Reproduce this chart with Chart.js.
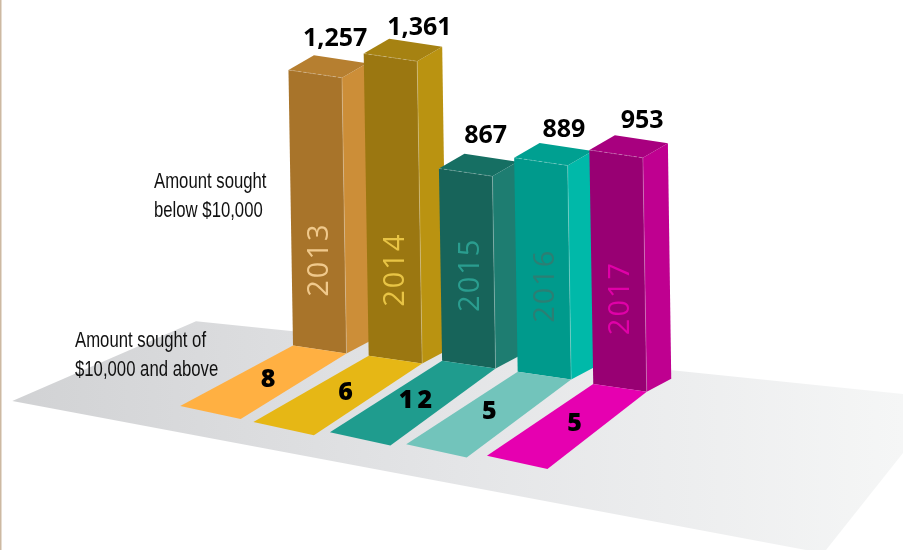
<!DOCTYPE html>
<html>
<head>
<meta charset="utf-8">
<title>Amount sought by year</title>
<script src="https://cdn.jsdelivr.net/npm/chart.js@4"></script>
<style>
    html, body { margin: 0; padding: 0; background: #ffffff; overflow: hidden; }
    #wrap { position: relative; width: 903px; height: 550px; }
</style>
</head>
<body>
<div id="wrap"><canvas id="chart" width="903" height="550"></canvas></div>
<script>
const years = ["2013", "2014", "2015", "2016", "2017"];
const belowTenThousand = [1257, 1361, 867, 889, 953];
const tenThousandAndAbove = [8, 6, 12, 5, 5];
// where each column stands on the tilted floor, in value units
const columnLift = [932, 886, 863, 813, 757];
// the artwork runs the columns a little past their value, this is the extra length
const columnFooting = [0, 17, 10, 87, 114];

const frontColors = ["#a8742a", "#9b7711", "#17645a", "#009a8c", "#980073"];
const sideColors = ["#cc8e38", "#ba9311", "#1e7d71", "#00b9a9", "#bf0090"];
const roofColors = ["#b67f30", "#a68212", "#166f63", "#00a091", "#a8007f"];
const stripColors = ["#ffb042", "#e6b715", "#1f9c8e", "#72c4bb", "#e600b0"];
const yearColors = ["#f0c98c", "#e8c445", "#2a9d8f", "#2b7f74", "#e000a8"];

// layout of the fake 3D, px
const COL_W = 53.5;
const SHEAR = 0.0165;
const FRONT_DROP = 7.8;
const stripDrop = [63, 69, 74.3, 75.2, 74.5];
const stripSlope = [1.735, 1.62, 1.463, 1.436, 1.38];
const labelShift = [[20, -24], [29, -18.5], [20, -25], [23, -21], [26, -22.5]];
const stripLabelShift = [3, 6, 3, -1, 6];

function poly(ctx, pts, fill) {
    ctx.beginPath();
    pts.forEach((p, i) => i ? ctx.lineTo(p[0], p[1]) : ctx.moveTo(p[0], p[1]));
    ctx.closePath();
    ctx.fillStyle = fill;
    ctx.fill();
}

function edge(ctx, a, b, dash) {
    ctx.save();
    ctx.strokeStyle = "rgba(255, 255, 255, 0.3)";
    ctx.lineWidth = 0.8;
    ctx.setLineDash(dash);
    ctx.beginPath();
    ctx.moveTo(a[0], a[1]);
    ctx.lineTo(b[0], b[1]);
    ctx.stroke();
    ctx.restore();
}

function drawFloor(ctx) {
    const grad = ctx.createLinearGradient(12, 0, 903, 0);
    grad.addColorStop(0, "#d1d2d4");
    grad.addColorStop(0.5, "#e4e5e7");
    grad.addColorStop(1, "#f5f6f6");
    poly(ctx, [[196, 321.3], [903, 394], [903, 453], [826, 550], [806, 550], [12.3, 401]], grad);
    ctx.fillStyle = "#cdb9a2";
    ctx.fillRect(0, 0, 1.5, 550);
}

// the reference uses a condensed face, none is installed so squeeze Liberation Sans
function drawNote(ctx, text, x, y) {
    ctx.save();
    ctx.translate(x, y);
    ctx.scale(0.76, 1);
    ctx.fillText(text, 0, 0);
    ctx.restore();
}

const pseudo3d = {
    id: "pseudo3d",
    beforeDatasetsDraw(chart) {
        drawFloor(chart.ctx);
    },
    // the plain rectangles are replaced by the faces below
    beforeDatasetDraw() {
        return false;
    },
    afterDatasetsDraw(chart) {
        const ctx = chart.ctx;
        const footing = chart.getDatasetMeta(1).data;
        const column = chart.getDatasetMeta(2).data;
        const feet = [];

        column.forEach((bar, i) => {
            const top = bar.y;
            const bottom = footing[i].base;
            const x0 = bar.x - COL_W / 2;
            const sh = SHEAR * (bottom - top);
            const ftl = [x0, top];
            const ftr = [x0 + COL_W, top + FRONT_DROP];
            const fbr = [x0 + COL_W + sh, bottom + FRONT_DROP];
            const fbl = [x0 + sh, bottom];
            const btr = [ftr[0] + 25, ftr[1] - 14.5];
            const btl = [ftl[0] + 25.5, ftl[1] - 14.7];
            const bbr = [fbr[0] + 24.5, fbr[1] - 13];

            poly(ctx, [ftr, btr, bbr, fbr], sideColors[i]);
            poly(ctx, [ftl, btl, btr, ftr], roofColors[i]);
            poly(ctx, [ftl, ftr, fbr, fbl], frontColors[i]);
            edge(ctx, ftl, ftr, [3, 2]);
            edge(ctx, ftr, fbr, []);
            feet.push({ fbl, fbr });

            ctx.save();
            ctx.translate(bar.x + 5, bottom - 86);
            ctx.rotate(-Math.PI / 2);
            ctx.font = "400 29px 'Open Sans'";
            ctx.letterSpacing = "2px";
            ctx.textAlign = "center";
            ctx.textBaseline = "middle";
            ctx.fillStyle = yearColors[i];
            ctx.fillText(years[i], 0, 0);
            ctx.restore();

            ctx.font = "700 25px 'Open Sans'";
            ctx.textAlign = "center";
            ctx.textBaseline = "alphabetic";
            ctx.fillStyle = "#000000";
            ctx.fillText(belowTenThousand[i].toLocaleString("en-US"), bar.x + labelShift[i][0], top + labelShift[i][1]);
        });

        feet.forEach((f, i) => {
            const reach = stripSlope[i] * stripDrop[i];
            const bl = [f.fbl[0] - reach - 3.5, f.fbl[1] + stripDrop[i] - 2.7];
            const br = [f.fbr[0] - reach + 3.5, f.fbr[1] + stripDrop[i] + 2.7];
            poly(ctx, [f.fbl, f.fbr, br, bl], stripColors[i]);

            const cx = (f.fbl[0] + f.fbr[0] + bl[0] + br[0]) / 4;
            const cy = (f.fbl[1] + f.fbr[1] + bl[1] + br[1]) / 4;
            const v = tenThousandAndAbove[i];
            ctx.save();
            ctx.font = "800 25px 'Open Sans'";
            ctx.letterSpacing = v >= 10 ? "4px" : "0px";
            ctx.textAlign = "center";
            ctx.textBaseline = "middle";
            ctx.fillStyle = "#000000";
            ctx.fillText(String(v), cx + stripLabelShift[i], cy - 1);
            ctx.restore();
        });

        ctx.font = "22px 'Liberation Sans'";
        ctx.textAlign = "left";
        ctx.textBaseline = "alphabetic";
        ctx.fillStyle = "#111111";
        drawNote(ctx, "Amount sought", 154, 188);
        drawNote(ctx, "below $10,000", 154, 217);
        drawNote(ctx, "Amount sought of", 75, 347);
        drawNote(ctx, "$10,000 and above", 75, 376);
    },
};

new Chart(document.getElementById("chart"), {
    type: "bar",
    data: {
        labels: years,
        datasets: [
            { label: "lift", data: columnLift, barThickness: COL_W, backgroundColor: "transparent" },
            { label: "footing", data: columnFooting, barThickness: COL_W, backgroundColor: frontColors },
            { label: "Amount sought below $10,000", data: belowTenThousand, barThickness: COL_W, backgroundColor: frontColors },
        ],
    },
    options: {
        responsive: false,
        animation: false,
        layout: { padding: { left: 277.6, right: 249.25, top: 0, bottom: 0 } },
        scales: {
            x: { display: false, stacked: true },
            y: { display: false, stacked: true, min: 0, max: 2508 },
        },
        plugins: {
            legend: { display: false },
            tooltip: { enabled: false },
        },
    },
    plugins: [pseudo3d],
});
</script>
</body>
</html>
